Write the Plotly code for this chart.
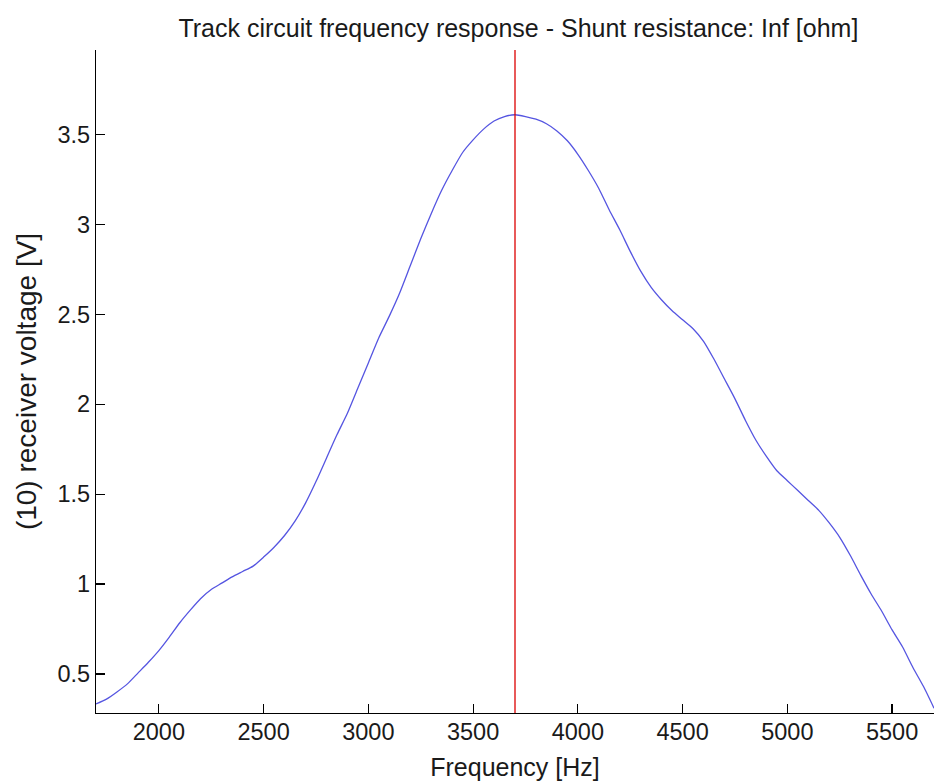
import plotly.graph_objects as go

# Frequency [Hz]
freq = [1700, 1750, 1800, 1850, 1900, 1950, 2000, 2050, 2100, 2150, 2200, 2250, 2300, 2350,
        2400, 2450, 2500, 2550, 2600, 2650, 2700, 2750, 2800, 2850, 2900, 2950, 3000, 3050,
        3100, 3150, 3200, 3250, 3300, 3350, 3400, 3450, 3500, 3550, 3600, 3650, 3700, 3750,
        3800, 3850, 3900, 3950, 4000, 4050, 4100, 4150, 4200, 4250, 4300, 4350, 4400, 4450,
        4500, 4550, 4600, 4650, 4700, 4750, 4800, 4850, 4900, 4950, 5000, 5050, 5100, 5150,
        5200, 5250, 5300, 5350, 5400, 5450, 5500, 5550, 5600, 5650, 5700]
# Receiver voltage [V]
voltage = [0.333, 0.36, 0.40, 0.445, 0.505, 0.565, 0.63, 0.705, 0.785, 0.855, 0.92, 0.97, 1.005, 1.04,
           1.07, 1.10, 1.15, 1.205, 1.27, 1.35, 1.45, 1.57, 1.70, 1.83, 1.95, 2.09, 2.23, 2.37,
           2.49, 2.62, 2.77, 2.92, 3.06, 3.19, 3.30, 3.40, 3.47, 3.53, 3.575, 3.60, 3.61, 3.60,
           3.585, 3.56, 3.52, 3.465, 3.39, 3.30, 3.20, 3.08, 2.97, 2.85, 2.74, 2.65, 2.58, 2.52,
           2.47, 2.42, 2.35, 2.25, 2.14, 2.03, 1.91, 1.80, 1.71, 1.63, 1.575, 1.52, 1.465, 1.41,
           1.34, 1.26, 1.16, 1.05, 0.945, 0.85, 0.745, 0.65, 0.535, 0.43, 0.31]
peak_freq = 3700

x_ticks = [2000, 2500, 3000, 3500, 4000, 4500, 5000, 5500]
y_ticks = [0.5, 1, 1.5, 2, 2.5, 3, 3.5]
y_tick_labels = ["0.5", "1", "1.5", "2", "2.5", "3", "3.5"]
x_range = [1700, 5700]
y_range = [0.283, 3.97]

font_family = "Liberation Sans, Arial, sans-serif"
txt_color = "#1a1a1a"

fig = go.Figure()
fig.add_trace(go.Scatter(
    x=freq, y=voltage, mode="lines", line_shape="spline",
    line=dict(color="rgb(85,85,225)", width=1.3, smoothing=0.6),
    showlegend=False, hoverinfo="skip",
))
fig.add_shape(type="line", xref="x", yref="paper", x0=peak_freq, x1=peak_freq, y0=0, y1=1,
              line=dict(color="rgb(220,0,0)", width=1.3))

axis_common = dict(
    showgrid=False, zeroline=False, showline=True, linecolor="black", linewidth=1.2,
    ticks="inside", ticklen=9, tickwidth=1.2, tickcolor="black", mirror=False,
    tickfont=dict(family=font_family, size=23.5, color=txt_color),
)

fig.update_layout(
    width=934, height=781,
    margin=dict(l=96, r=0, t=50, b=68),
    paper_bgcolor="white", plot_bgcolor="white",
    font=dict(family=font_family, color=txt_color),
    title=dict(text="Track circuit frequency response - Shunt resistance: Inf [ohm]",
               x=0.555, xanchor="center", y=0.964, yanchor="middle",
               font=dict(family=font_family, size=25, color=txt_color)),
    xaxis=dict(range=x_range, tickvals=x_ticks, ticktext=[str(v) for v in x_ticks],
               ticklabelstandoff=-2,
               title=dict(text="Frequency [Hz]", standoff=14,
                          font=dict(family=font_family, size=25, color=txt_color)),
               **axis_common),
    yaxis=dict(range=y_range, tickvals=y_ticks, ticktext=y_tick_labels,
               title=dict(text="(10) receiver voltage [V]", standoff=12,
                          font=dict(family=font_family, size=28, color=txt_color)),
               **axis_common),
)

fig.write_html(
    "out.html",
    config={"displayModeBar": False, "staticPlot": True},
    post_script="document.body.style.margin='0';document.body.style.overflow='hidden';",
)
